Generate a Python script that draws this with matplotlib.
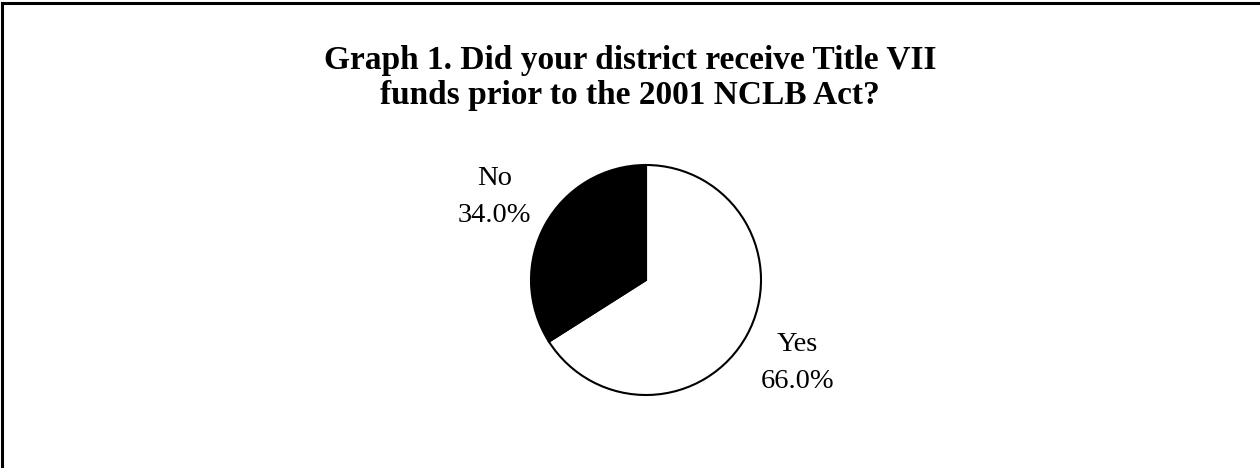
import matplotlib.pyplot as plt
from matplotlib.lines import Line2D

# Survey answers (percent of districts)
answers = ["Yes", "No"]
shares = [66.0, 34.0]
fill_colors = ["white", "black"]

title = "Graph 1. Did your district receive Title VII\nfunds prior to the 2001 NCLB Act?"

W, H = 1260, 468
fig = plt.figure(figsize=(W / 100, H / 100), dpi=100)
ax = fig.add_axes([0, 0, 1, 1])

labels = ["%s\n%.1f%%" % (a, s) for a, s in zip(answers, shares)]
ax.pie(shares, labels=labels, colors=fill_colors, startangle=90, counterclock=False,
       center=(646, H - 280), radius=115, labeldistance=1.5, frame=True,
       wedgeprops=dict(edgecolor="black", linewidth=1.5),
       textprops=dict(family="Liberation Serif", fontsize=20.5, ha="center", va="center",
                      linespacing=1.6))
ax.set_xlim(0, W)
ax.set_ylim(0, H)
ax.set_aspect("equal")
ax.axis("off")

fig.text(0.5, 1 - 78 / H, title, ha="center", va="center", family="Liberation Serif",
         fontsize=24, fontweight="bold", linespacing=1.15)

# frame edges on left and top
fig.add_artist(Line2D([2 / W, 2 / W], [0, 1 - 3 / H], color="black", lw=2.2,
                      transform=fig.transFigure))
fig.add_artist(Line2D([2 / W, 1], [1 - 3 / H, 1 - 3 / H], color="black", lw=2.2,
                      transform=fig.transFigure))

fig.savefig("out.png", dpi=100)
